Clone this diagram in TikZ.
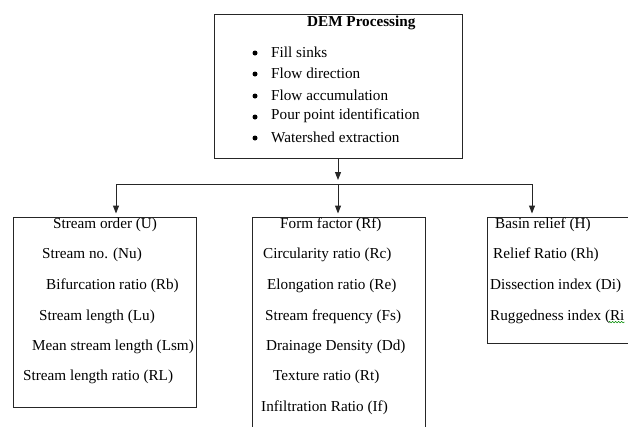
\documentclass[tikz,border=0pt]{standalone}
\usepackage{fontspec}
\setmainfont{Liberation Serif}
\usetikzlibrary{arrows.meta,positioning,decorations.pathmorphing}
\tikzset{
    box/.style =    {rectangle,
                    fill=white,
                    draw=black!85,
                    line width=1pt,
                    inner sep=0pt},
    item/.style =   {anchor=west,
                    inner sep=0pt,
                    text=black,
                    font=\fontsize{15.2}{18}\selectfont},
    head/.style =   {item,
                    font=\fontsize{15.2}{18}\selectfont\bfseries},
    dot/.style =    {circle,
                    fill=black,
                    inner sep=0pt,
                    minimum size=5pt},
    flow/.style =   {draw=black!85,
                    line width=1pt},
    squiggle/.style = {draw=green!55!black,
                    line width=0.5pt,
                    decorate,
                    decoration={snake,amplitude=0.7pt,segment length=3pt}},
    >={Triangle[length=8pt,width=6pt]}}

\begin{document}
\begin{tikzpicture}[x=1pt,y=-1pt]
                \useasboundingbox (0,0) rectangle (628,426);
                \clip (0,0) rectangle (628,426);

                % boxes
                \node[box,minimum width=248pt,minimum height=144pt] (dem)    at (338,86)    {};
                \node[box,minimum width=183pt,minimum height=190pt] (linear) at (104.5,312) {};
                \node[box,minimum width=173pt,minimum height=223pt] (areal)  at (338.5,328.5) {};
                \node[box,minimum width=173pt,minimum height=126pt] (relief) at (573.5,280) {};

                % DEM processing steps
                \node[head] (title) at (307,23) {DEM Processing};
                \foreach \y/\t [count=\i] in {52/Fill sinks,
                                             73/Flow direction,
                                             95/Flow accumulation,
                                             116/Pour point identification,
                                             137/Watershed extraction}{
                    \node[dot]  (dot\i)  at (255,\y+1) {};
                    \node[item] (step\i) at (271,\y) {\t};
                }

                % linear aspects
                \foreach \x/\y/\t [count=\i] in {53/225/Stream order (U),
                                                42/255/Stream no. (Nu),
                                                46/286/Bifurcation ratio (Rb),
                                                39/317/Stream length (Lu),
                                                32/347/Mean stream length (Lsm),
                                                23/377/Stream length ratio (RL)}
                    \node[item] (lin\i) at (\x,\y) {\t};

                % areal aspects
                \foreach \x/\y/\t [count=\i] in {280/225/Form factor (Rf),
                                                263/255/Circularity ratio (Rc),
                                                267/286/Elongation ratio (Re),
                                                265/317/Stream frequency (Fs),
                                                266/347/Drainage Density (Dd),
                                                273/377/Texture ratio (Rt),
                                                261/408/Infiltration Ratio (If)}
                    \node[item] (are\i) at (\x,\y) {\t};

                % relief aspects
                \foreach \x/\y/\t [count=\i] in {495/225/Basin relief (H),
                                                493/255/Relief Ratio (Rh),
                                                490/286/Dissection index (Di),
                                                490/317/Ruggedness index (Ri}
                    \node[item] (rel\i) at (\x,\y) {\t};
                \draw[squiggle] ([xshift=-16pt,yshift=2pt]rel4.south east) -- ++(16,0);

                % connectors
                \coordinate (fork)  at (338,184);
                \coordinate (forkL) at (116,184);
                \coordinate (forkR) at (532,184);

                \draw[flow] (forkL) -- (forkR);
                \path [->]  (dem)   edge [flow,shorten >=4pt] (fork)
                            (forkL) edge [flow,shorten >=3pt] (forkL |- linear.north)
                            (fork)  edge [flow,shorten >=3pt] (fork |- areal.north)
                            (forkR) edge [flow,shorten >=3pt] (forkR |- relief.north);
        \end{tikzpicture}
\end{document}
